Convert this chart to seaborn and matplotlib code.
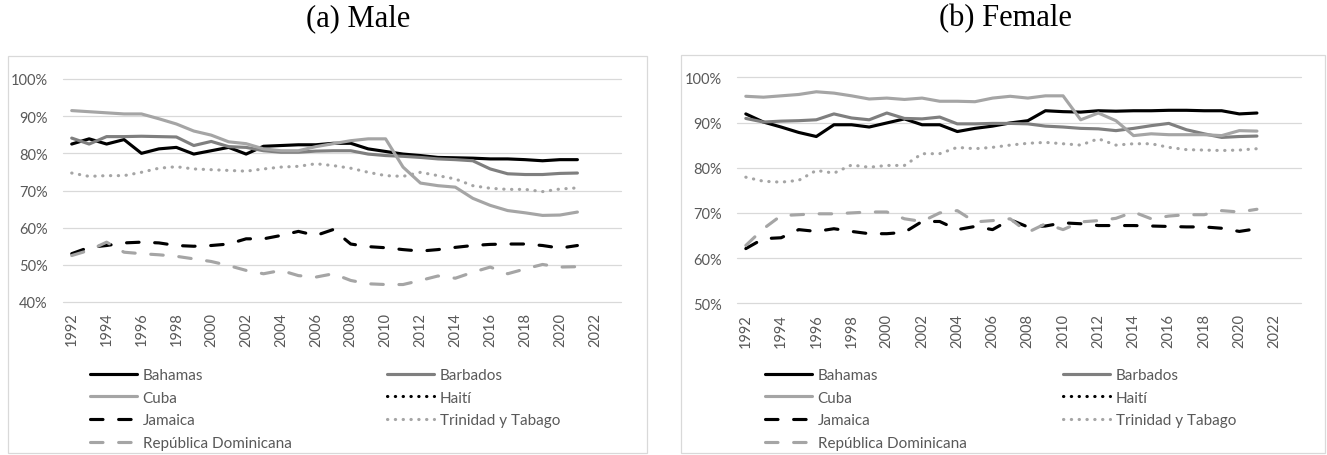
import numpy as np
import pandas as pd
import matplotlib
matplotlib.use("Agg")
import matplotlib.pyplot as plt
import seaborn as sns
from matplotlib.lines import Line2D
from matplotlib.legend import Legend
from matplotlib.patches import Rectangle
from matplotlib.ticker import FuncFormatter, FixedLocator

years = list(range(1992, 2022))
countries = ["Bahamas", "Barbados", "Cuba", "Haití", "Jamaica",
             "Trinidad y Tabago", "República Dominicana"]

# ---- Male (%) ----
male_bahamas = [82.5, 83.9, 82.5, 83.7, 80.0, 81.2, 81.6, 79.8, 80.7, 81.6,
                79.8, 81.9, 82.1, 82.3, 82.3, 82.7, 82.7, 81.2, 80.5, 79.8,
                79.4, 78.9, 78.8, 78.7, 78.5, 78.5, 78.3, 78.0, 78.3, 78.3]
male_barbados = [84.1, 82.5, 84.5, 84.5, 84.6, 84.5, 84.4, 82.1, 83.2, 81.8,
                 81.6, 80.7, 80.3, 80.3, 80.6, 80.7, 80.7, 79.8, 79.4, 79.2,
                 78.9, 78.5, 78.3, 78.0, 75.8, 74.5, 74.3, 74.3, 74.6, 74.7]
male_cuba = [91.5, 91.2, 90.9, 90.6, 90.6, 89.3, 87.9, 86.0, 84.9, 83.1,
             82.6, 81.2, 80.7, 80.7, 81.8, 82.6, 83.4, 83.9, 83.9, 76.3,
             72.0, 71.3, 70.9, 67.9, 66.0, 64.6, 64.0, 63.3, 63.4, 64.2]
male_haiti = [np.nan] * 30
male_jamaica = [53.0, 54.7, 55.2, 55.9, 56.1, 55.9, 55.2, 55.0, 55.2, 55.6,
                57.0, 57.0, 57.9, 59.0, 57.9, 59.5, 55.6, 54.9, 54.6, 54.1,
                53.7, 54.1, 54.7, 55.2, 55.5, 55.6, 55.6, 55.2, 54.5, 55.2]
male_trinidad = [74.7, 73.8, 74.0, 74.0, 74.9, 76.0, 76.4, 75.8, 75.6, 75.4,
                 75.2, 75.8, 76.3, 76.5, 77.2, 76.7, 76.0, 74.9, 74.0, 73.8,
                 74.9, 74.0, 73.1, 71.3, 70.6, 70.3, 70.3, 69.7, 70.4, 70.7]
male_repdom = [52.5, 53.9, 56.1, 53.4, 53.0, 52.7, 52.3, 51.6, 50.9, 49.8,
               48.5, 47.6, 48.5, 47.1, 46.7, 47.6, 45.8, 44.9, 44.7, 44.7,
               45.8, 47.0, 46.4, 48.0, 49.4, 47.6, 48.9, 50.1, 49.4, 49.5]

# ---- Female (%) ----
female_bahamas = [91.9, 90.1, 89.0, 87.8, 86.9, 89.5, 89.5, 89.0, 89.9, 90.8,
                  89.5, 89.5, 88.0, 88.7, 89.2, 89.9, 90.4, 92.6, 92.4, 92.3,
                  92.6, 92.5, 92.6, 92.6, 92.7, 92.7, 92.6, 92.6, 91.9, 92.1]
female_barbados = [90.9, 90.1, 90.3, 90.4, 90.6, 91.9, 91.0, 90.6, 92.1, 90.9,
                   90.8, 91.2, 89.7, 89.7, 89.8, 89.8, 89.7, 89.2, 89.0, 88.7,
                   88.6, 88.2, 88.7, 89.3, 89.8, 88.4, 87.5, 86.7, 86.9, 87.0]
female_cuba = [95.8, 95.6, 95.9, 96.2, 96.8, 96.5, 95.9, 95.2, 95.4, 95.1,
               95.4, 94.7, 94.7, 94.6, 95.4, 95.8, 95.4, 95.9, 95.9, 90.6,
               92.1, 90.4, 87.1, 87.5, 87.3, 87.3, 87.3, 87.1, 88.2, 88.1]
female_haiti = [np.nan] * 30
female_jamaica = [62.1, 64.3, 64.5, 66.3, 65.9, 66.5, 65.9, 65.4, 65.4, 65.7,
                  68.1, 68.1, 66.3, 67.0, 66.3, 68.5, 66.9, 67.1, 67.8, 67.6,
                  67.2, 67.2, 67.2, 67.1, 67.0, 66.9, 66.9, 66.6, 65.9, 66.5]
female_trinidad = [77.9, 77.0, 76.8, 77.2, 79.4, 78.8, 80.6, 80.1, 80.5, 80.5,
                   83.1, 83.1, 84.5, 84.2, 84.5, 85.0, 85.4, 85.6, 85.3, 85.0,
                   86.4, 85.0, 85.3, 85.3, 84.5, 84.0, 83.9, 83.8, 83.9, 84.2]
female_repdom = [62.8, 66.5, 69.4, 69.6, 69.8, 69.8, 70.0, 70.2, 70.2, 68.7,
                 68.1, 70.0, 70.5, 68.0, 68.3, 68.7, 65.7, 67.6, 66.3, 68.0,
                 68.3, 68.8, 70.2, 68.7, 69.3, 69.6, 69.6, 70.5, 70.2, 70.8]

male = [male_bahamas, male_barbados, male_cuba, male_haiti, male_jamaica,
        male_trinidad, male_repdom]
female = [female_bahamas, female_barbados, female_cuba, female_haiti,
          female_jamaica, female_trinidad, female_repdom]

tick_years = list(range(1992, 2023, 2))

def long_df(series):
    rows = []
    for c, vals in zip(countries, series):
        for y, v in zip(years, vals):
            rows.append({"year": y, "country": c, "value": v})
    return pd.DataFrame(rows)

palette = {"Bahamas": "#000000", "Barbados": "#7f7f7f", "Cuba": "#a5a5a5",
           "Haití": "#000000", "Jamaica": "#000000",
           "Trinidad y Tabago": "#a5a5a5", "República Dominicana": "#a5a5a5"}
dashes = {"Bahamas": "", "Barbados": "", "Cuba": "",
          "Haití": (0.1, 2.4), "Jamaica": (4, 5),
          "Trinidad y Tabago": (0.1, 2.4), "República Dominicana": (4, 5)}

sns.set_theme(style="white")
plt.rcParams["font.family"] = ["Lato", "DejaVu Sans"]

W, H = 1327, 456
fig = plt.figure(figsize=(W / 100, H / 100), dpi=100)

LW = 2.25
TXT = "#595959"

def fx(px):
    return px / W

def fy(py):
    return 1 - py / H

def panel(ax, series, ylo):
    df = long_df(series).dropna()
    present = [c for c in countries if c in df.country.unique()]
    sns.lineplot(data=df, x="year", y="value", hue="country", style="country",
                 palette=palette, dashes=dashes, linewidth=LW, ax=ax,
                 legend=False, hue_order=present, style_order=present)
    for ln in ax.get_lines():
        ln.set_dash_capstyle("round")
        ln.set_solid_capstyle("round")
        ln.set_solid_joinstyle("round")
        ln.set_dash_joinstyle("round")
    ax.set_xlim(1991.5, 2023.5)
    ax.set_ylim(ylo, 100)
    ax.yaxis.set_major_locator(FixedLocator(list(range(ylo, 101, 10))))
    ax.yaxis.set_major_formatter(FuncFormatter(lambda v, p: f"{v:.0f}%"))
    ax.set_xticks(tick_years)
    ax.set_xticklabels([str(t) for t in tick_years], rotation=90)
    ax.tick_params(axis="x", length=0, pad=7, labelsize=10.5, colors=TXT)
    ax.tick_params(axis="y", length=0, pad=11, labelsize=10.5, colors=TXT)
    ax.grid(axis="y", color="#d9d9d9", linewidth=0.9)
    ax.grid(axis="x", visible=False)
    ax.set_axisbelow(True)
    for s in ax.spines.values():
        s.set_visible(False)
    ax.set_xlabel("")
    ax.set_ylabel("")
    ax.set_facecolor("none")
    for gl in ax.get_ygridlines():
        gl.set_clip_on(False)

def legend_handle(c):
    d = dashes[c]
    ls = "-" if d == "" else (0, d)
    return Line2D([], [], color=palette[c], linewidth=LW, linestyle=ls,
                  dash_capstyle="round", solid_capstyle="round")

def add_legends(ax, x1, x2, ytop):
    col1 = ["Bahamas", "Cuba", "Jamaica", "República Dominicana"]
    col2 = ["Barbados", "Haití", "Trinidad y Tabago"]
    for cols, x in ((col1, x1), (col2, x2)):
        leg = Legend(ax, [legend_handle(c) for c in cols], cols,
                     loc="upper left", bbox_to_anchor=(fx(x), fy(ytop)),
                     bbox_transform=fig.transFigure, frameon=False,
                     borderpad=0, borderaxespad=0, handlelength=3.1,
                     handletextpad=0.35, labelspacing=0.57, fontsize=11,
                     labelcolor=TXT)
        ax.add_artist(leg)

# chart area borders
fig.patches.append(Rectangle((fx(8), fy(454)), fx(647 - 8), (454 - 57) / H,
                             transform=fig.transFigure, fill=False,
                             ec="#d9d9d9", lw=0.9))
fig.patches.append(Rectangle((fx(681), fy(454)), fx(1325 - 681), (454 - 56) / H,
                             transform=fig.transFigure, fill=False,
                             ec="#d9d9d9", lw=0.9))

axL = fig.add_axes([fx(63), fy(303), fx(558), 223 / H])
axR = fig.add_axes([fx(737), fy(304.3), fx(564), 226 / H])

panel(axL, male, 40)
panel(axR, female, 50)

add_legends(axL, 90, 387, 369)
add_legends(axR, 765, 1063, 369)

fig.text(fx(358), fy(19), "(a) Male", ha="center", va="center",
         family="Liberation Serif", fontsize=22, color="black")
fig.text(fx(1005), fy(19), "(b) Female", ha="center", va="center",
         family="Liberation Serif", fontsize=22, color="black")

fig.savefig("out.png", dpi=100, facecolor="white")
